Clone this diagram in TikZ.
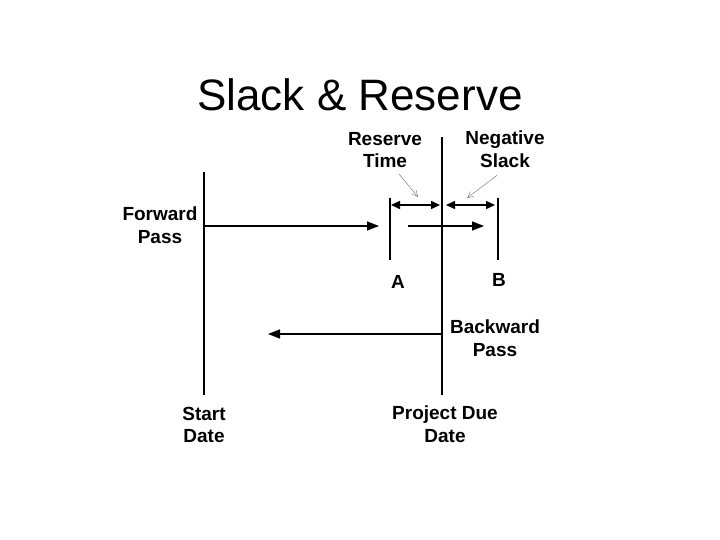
\documentclass[tikz,border=0pt]{standalone}
\usepackage{fontspec}
\setmainfont{Liberation Sans}
\usetikzlibrary{arrows.meta}
\begin{document}
\begin{tikzpicture}[x=1pt,y=-1pt,
  lbl/.style={font=\fontsize{19}{22.5}\selectfont\bfseries,align=center,inner sep=0pt},
  vline/.style={line width=2.4pt},
  harrow/.style={line width=1.5pt,-{Triangle[length=12pt,width=9pt]}},
  darrow/.style={line width=1.5pt,{Triangle[length=9pt,width=8pt]}-{Triangle[length=9pt,width=8pt]}},
  pointer/.style={line width=0.5pt,draw=gray,-{Straight Barb[length=6pt,width=6pt]}}]
\useasboundingbox[fill=white] (0,0) rectangle (720,540);
\node[font=\fontsize{44}{50}\selectfont] (title) at (360,95) {Slack \& Reserve};
% coordinates
\coordinate (sTop) at (204,172);
\coordinate (sBot) at (204,395);
\coordinate (pTop) at (442,137);
\coordinate (pBot) at (442,395);
\coordinate (aTop) at (390,198);
\coordinate (aBot) at (390,260);
\coordinate (bTop) at (498,198);
\coordinate (bBot) at (498,260);
% vertical lines
\draw[vline] (sTop) -- (sBot);
\draw[vline] (pTop) -- (pBot);
\draw[line width=1.8pt] (aTop) -- (aBot);
\draw[line width=1.8pt] (bTop) -- (bBot);
% labels
\node[lbl] (fwd) at (160,225) {Forward\\Pass};
\node[lbl] (res) at (385,150) {Reserve\\Time};
\node[lbl] (neg) at (505,149) {Negative\\Slack};
\node[lbl] (A) at (398,282) {A};
\node[lbl] (B) at (499,280) {B};
\node[lbl] (bwd) at (495,338) {Backward\\Pass};
\node[lbl] (start) at (204,425) {Start\\Date};
\node[lbl] (due) at (445,424) {Project Due\\Date};
% arrows
\coordinate (f1) at (204,226);
\coordinate (f2) at (379,226);
\draw[harrow] (f1) -- (f2);
\coordinate (g1) at (408,226);
\coordinate (g2) at (484,226);
\draw[harrow] (g1) -- (g2);
\coordinate (k1) at (442,334);
\coordinate (k2) at (268,334);
\draw[harrow] (k1) -- (k2);
\coordinate (r1) at (391,205);
\coordinate (r2) at (440,205);
\draw[darrow] (r1) -- (r2);
\coordinate (n1) at (446,205);
\coordinate (n2) at (495,205);
\draw[darrow] (n1) -- (n2);
% pointers
\coordinate (rp) at (418,197);
\coordinate (np) at (467,198);
\draw[pointer] (res.south) ++(14,6) -- (rp);
\draw[pointer] (neg.south) ++(-8,8) -- (np);
\end{tikzpicture}
\end{document}
